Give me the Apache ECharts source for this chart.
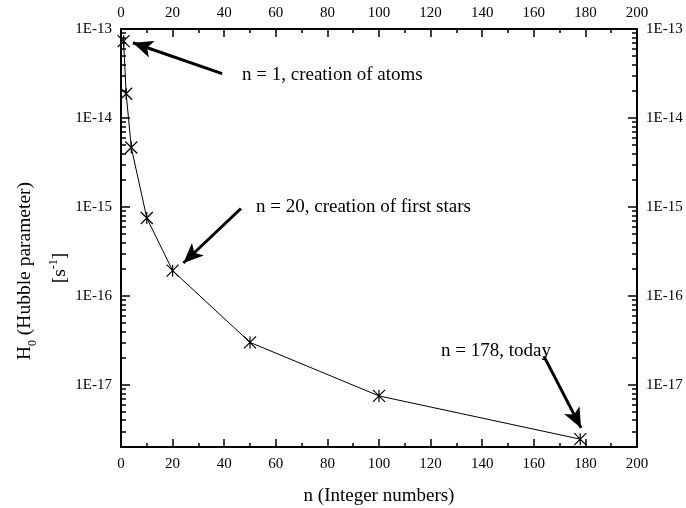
<!DOCTYPE html>
<html>
<head>
<meta charset="utf-8">
<script src="https://cdn.jsdelivr.net/npm/echarts@6/dist/echarts.min.js"></script>
<style>html,body{margin:0;padding:0;background:#fff}#c{width:686px;height:508px}</style>
</head>
<body>
<div id="c"></div>
<script>
// ---- data ----
const nValues = [1, 2, 4, 10, 20, 50, 100, 178];
const hValues = [7.3e-14, 1.87e-14, 4.65e-15, 7.5e-16, 1.92e-16, 3.0e-17, 7.5e-18, 2.45e-18];
const xTicks = [0, 20, 40, 60, 80, 100, 120, 140, 160, 180, 200];
const yMajorTicks = [1e-17, 1e-16, 1e-15, 1e-14, 1e-13];
const yMinorTicks = [2e-18,3e-18,4e-18,5e-18,6e-18,7e-18,8e-18,9e-18,
  2e-17,3e-17,4e-17,5e-17,6e-17,7e-17,8e-17,9e-17,
  2e-16,3e-16,4e-16,5e-16,6e-16,7e-16,8e-16,9e-16,
  2e-15,3e-15,4e-15,5e-15,6e-15,7e-15,8e-15,9e-15,
  2e-14,3e-14,4e-14,5e-14,6e-14,7e-14,8e-14,9e-14];
// annotation arrows: [tail, head tip] in data coordinates
const arrowTails = [[39.2, 3.15e-14], [46.5, 9.6e-16], [163.9, 2.1e-17]];
const arrowHeads = [[4.6, 7.0e-14], [24.2, 2.34e-16], [178.3, 3.28e-18]];
const annotationTexts = ['n = 1, creation of atoms', 'n = 20, creation of first stars', 'n = 178, today'];

const FONT = 'Liberation Serif';
const chart = echarts.init(document.getElementById('c'), null, {renderer: 'canvas'});

function xAxisDef(pos) {
  return {
    type: 'value', position: pos, min: 0, max: 200, interval: 20,
    axisLine: {show: true, onZero: false, lineStyle: {color: '#000', width: 2}},
    axisTick: {show: true, inside: true, length: 8, lineStyle: {color: '#000', width: 1.5}},
    minorTick: {show: true, splitNumber: 2, length: 4, lineStyle: {color: '#000', width: 1.5}},
    splitLine: {show: false},
    axisLabel: {show: true, margin: pos === 'top' ? 8 : 10, color: '#000', fontFamily: FONT, fontSize: 15, customValues: xTicks},
  };
}
function yAxisDef(pos, major) {
  return {
    type: 'log', logBase: 10, position: pos, min: 2e-18, max: 1e-13,
    axisLine: {show: true, onZero: false, lineStyle: {color: '#000', width: 2}},
    axisTick: {show: true, inside: true, length: major ? 9 : 5, customValues: major ? yMajorTicks : yMinorTicks,
      lineStyle: {color: '#000', width: 1.5}},
    minorTick: {show: false},
    splitLine: {show: false},
    axisLabel: major ? {show: true, margin: 9, color: '#000', fontFamily: FONT, fontSize: 15,
      customValues: yMajorTicks,
      formatter: v => '1E' + Math.round(Math.log10(v))} : {show: false},
  };
}

const xBottom = xAxisDef('bottom');
xBottom.name = 'n (Integer numbers)';
xBottom.nameLocation = 'middle';
xBottom.nameGap = 40;
xBottom.nameTextStyle = {color: '#000', fontFamily: FONT, fontSize: 19};

const arrowData = arrowTails.map((t, i) => [
  {coord: t, symbol: 'none'},
  {coord: arrowHeads[i], symbol: 'arrow', symbolSize: [13, 20]}
]);

const option = {
  animation: false,
  backgroundColor: '#fff',
  grid: {left: 121, right: 49, top: 29, bottom: 61, containLabel: false, outerBoundsMode: 'none'},
  xAxis: [xBottom, xAxisDef('top')],
  yAxis: [yAxisDef('left', true), yAxisDef('left', false), yAxisDef('right', true), yAxisDef('right', false)],
  series: [{
    type: 'line',
    xAxisIndex: 0, yAxisIndex: 0,
    data: nValues.map((n, i) => [n, hValues[i]]),
    symbol: 'path://M12,0 L12,24 M0,0 L24,24 M0,24 L24,0',
    symbolSize: 12,
    itemStyle: {color: 'none', borderColor: '#000', borderWidth: 1.2},
    lineStyle: {color: '#000', width: 1},
    markLine: {
      silent: true, animation: false,
      symbol: ['none', 'arrow'],
      symbolSize: 16,
      label: {show: false},
      itemStyle: {color: '#000'},
      lineStyle: {color: '#000', width: 3, type: 'solid'},
      emphasis: {disabled: true},
      data: arrowData
    }
  }],
  graphic: [
    {type: 'text', left: 242, top: 66, style: {text: annotationTexts[0], fill: '#000', font: '19px "' + FONT + '"'}},
    {type: 'text', left: 256, top: 198, style: {text: annotationTexts[1], fill: '#000', font: '19px "' + FONT + '"'}},
    {type: 'text', left: 441, top: 342, style: {text: annotationTexts[2], fill: '#000', font: '19px "' + FONT + '"'}},
    {type: 'text', x: 24, y: 271, rotation: Math.PI / 2,
      style: {text: '{a|H}{sub|0}{a| (Hubble parameter)}', align: 'center', verticalAlign: 'middle', fill: '#000',
        rich: {a: {fontFamily: FONT, fontSize: 19.5, lineHeight: 22, verticalAlign: 'bottom'},
               sub: {fontFamily: FONT, fontSize: 12, lineHeight: 22, verticalAlign: 'bottom', padding: [0, 0, -4, 0]}}}},
    {type: 'text', x: 59, y: 268, rotation: Math.PI / 2,
      style: {text: '{a|[s}{sup|-1}{a|]}', align: 'center', verticalAlign: 'middle', fill: '#000',
        rich: {a: {fontFamily: FONT, fontSize: 19.5, lineHeight: 22, verticalAlign: 'bottom'},
               sup: {fontFamily: FONT, fontSize: 12, lineHeight: 22, verticalAlign: 'top'}}}}
  ]
};
chart.setOption(option);
</script>
</body>
</html>
